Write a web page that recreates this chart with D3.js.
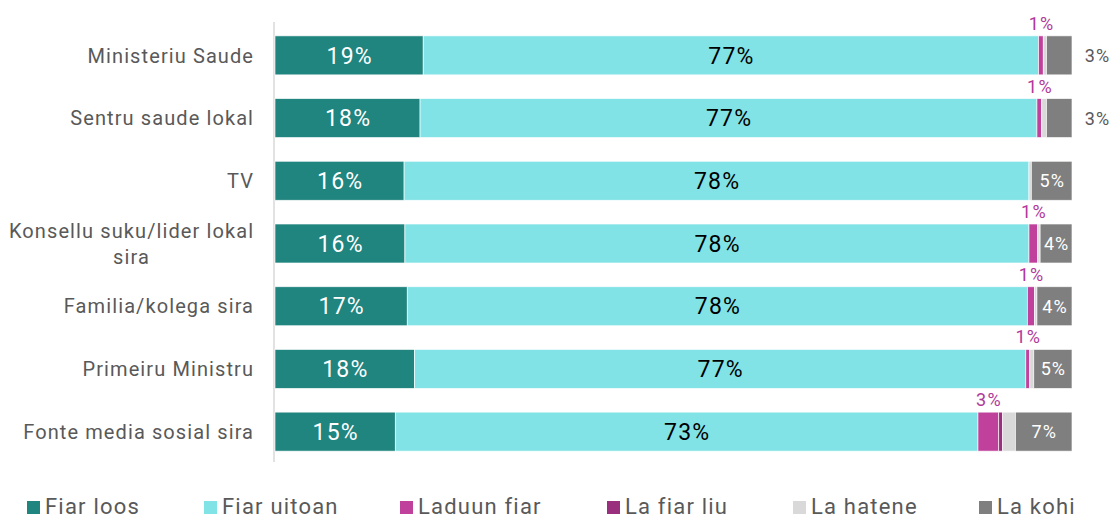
<!DOCTYPE html>
<html>
<head>
<meta charset="utf-8">
<script src="https://cdn.jsdelivr.net/npm/d3@7"></script>
<style>
  html, body { margin: 0; padding: 0; background: #ffffff; }
  svg { display: block; font-family: Roboto, "Noto Sans", sans-serif; }
</style>
</head>
<body>
<svg id="chart" width="1111" height="520"></svg>
<script>
// Trust in information sources (% of respondents)
const categories = [
  "Ministeriu Saude",
  "Sentru saude lokal",
  "TV",
  "Konsellu suku/lider lokal sira",
  "Familia/kolega sira",
  "Primeiru Ministru",
  "Fonte media sosial sira"
];
const seriesNames = ["Fiar loos", "Fiar uitoan", "Laduun fiar", "La fiar liu", "La hatene", "La kohi"];
const fiarLoos   = [18.6, 18.2, 16.2, 16.3, 16.6, 17.5, 15.1];
const fiarUitoan = [77.2, 77.4, 78.4, 78.3, 77.8, 76.7, 73.1];
const laduunFiar = [0.6, 0.6, 0.0, 1.1, 0.9, 0.5, 2.6];
const laFiarLiu  = [0.0, 0.0, 0.0, 0.0, 0.0, 0.0, 0.5];
const laHatene   = [0.4, 0.6, 0.3, 0.3, 0.3, 0.5, 1.6];
const laKohi     = [3.2, 3.2, 5.1, 4.0, 4.4, 4.8, 7.1];
const colors = ["#20847f", "#82e3e6", "#c0419b", "#992f7d", "#d9d9d9", "#7f7f7f"];

const seriesValues = [fiarLoos, fiarUitoan, laduunFiar, laFiarLiu, laHatene, laKohi];
const rows = categories.map((c, i) => {
  const r = { category: c };
  seriesNames.forEach((s, k) => r[s] = seriesValues[k][i]);
  return r;
});
const stacked = d3.stack().keys(seriesNames)(rows);

const svg = d3.select("#chart");
const x = d3.scaleLinear().domain([0, 100]).range([275, 1072]);
const y = d3.scaleBand().domain(categories).range([24, 463])
  .paddingInner(0.378).paddingOuter(0.189);
const pct = v => Math.round(v) + "%";

// centred text with letter spacing (trailing spacing compensated)
function label(g, xPos, yPos, txt, size, fill, ls) {
  return g.append("text")
    .attr("x", xPos + ls / 2).attr("y", yPos)
    .attr("text-anchor", "middle").attr("font-size", size)
    .attr("letter-spacing", ls).attr("fill", fill).text(txt);
}

// category axis line
svg.append("line")
  .attr("x1", 274).attr("x2", 274).attr("y1", 22).attr("y2", 462)
  .attr("stroke", "#d9d9d9").attr("stroke-width", 1.5);

// stacked bars
const layers = svg.append("g").selectAll("g").data(stacked).join("g")
  .attr("fill", (d, i) => colors[i]);
layers.selectAll("rect").data(d => d).join("rect")
  .attr("x", d => x(d[0]))
  .attr("y", d => y(d.data.category))
  .attr("width", d => Math.max(0, x(d[1]) - x(d[0])))
  .attr("height", y.bandwidth())
  .attr("stroke", "#ffffff").attr("stroke-width", 0.8)
  .attr("stroke-opacity", 0.8);

const labels = svg.append("g");
const mid = d => (x(d[0]) + x(d[1])) / 2;
const cy = d => y(d.data.category) + y.bandwidth() / 2;

// Fiar loos / Fiar uitoan: centred in the segment
stacked[0].forEach(d => label(labels, mid(d), cy(d), pct(d[1] - d[0]), 23, "#ffffff", 1.2)
  .attr("dy", "0.36em"));
stacked[1].forEach(d => label(labels, mid(d), cy(d), pct(d[1] - d[0]), 23, "#000000", 1.2)
  .attr("dy", "0.36em"));

// Laduun fiar: above the bar
stacked[2].forEach(d => {
  const v = d[1] - d[0];
  if (v <= 0) return;
  label(labels, mid(d), y(d.data.category) - 6, pct(v), 18, "#b0399a", 1.2);
});

// La kohi: inside when wide enough, otherwise to the right
stacked[5].forEach(d => {
  const v = d[1] - d[0];
  const inside = v >= 3.5;
  label(labels, inside ? mid(d) : x(d[1]) + 25, cy(d), pct(v), 18,
        inside ? "#ffffff" : "#595959", 1.0).attr("dy", "0.36em");
});

// category labels
const catWrap = { "Konsellu suku/lider lokal sira": ["Konsellu suku/lider lokal", "sira"] };
const catLS = 1.1;
const catG = svg.append("g");
categories.forEach(c => {
  const lines = catWrap[c] || [c];
  const t = catG.append("text").attr("font-size", 20)
    .attr("letter-spacing", catLS).attr("fill", "#595959");
  if (lines.length === 1) {
    t.attr("x", 253 + catLS).attr("y", y(c) + y.bandwidth() / 2).attr("dy", "0.36em")
      .attr("text-anchor", "end").text(c);
  } else {
    const probe = t.append("tspan").text(lines[0]);
    const w = probe.node().getComputedTextLength();
    probe.remove();
    const cx = 253 + catLS - w / 2;
    const lh = 26;
    const top = y(c) + y.bandwidth() / 2 - lh * (lines.length - 1) / 2;
    t.attr("text-anchor", "middle");
    lines.forEach((ln, i) => t.append("tspan")
      .attr("x", cx).attr("y", top + i * lh).attr("dy", "0.36em").text(ln));
  }
});

// legend
const legendX = [27, 204, 400, 607, 793, 979];
const lg = svg.append("g");
seriesNames.forEach((s, i) => {
  lg.append("rect").attr("x", legendX[i]).attr("y", 501)
    .attr("width", 13).attr("height", 13).attr("fill", colors[i]);
  lg.append("text").attr("x", legendX[i] + 18).attr("y", 514)
    .attr("font-size", 22).attr("letter-spacing", 1.2)
    .attr("fill", "#595959").text(s);
});
</script>
</body>
</html>
